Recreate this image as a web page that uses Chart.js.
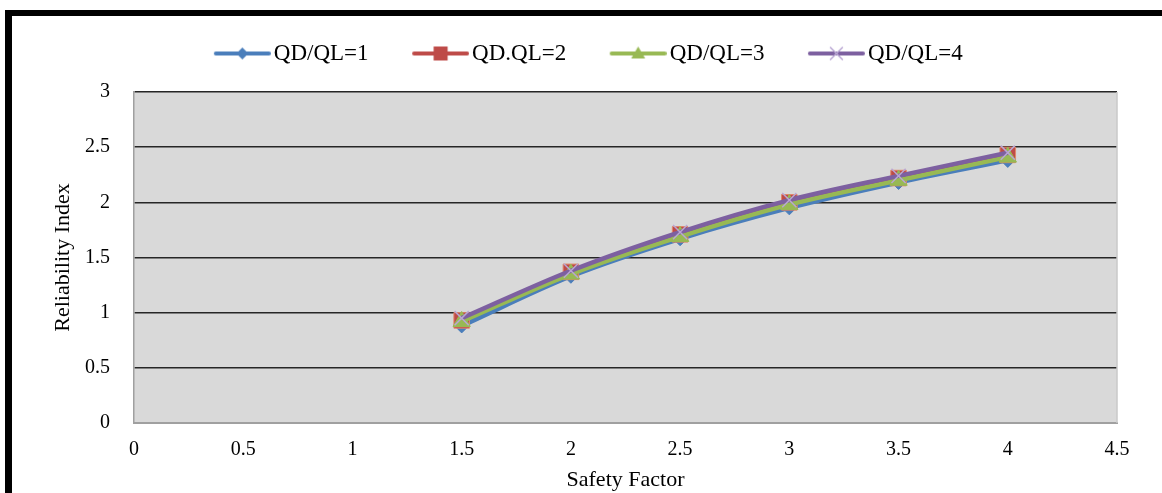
<!DOCTYPE html>
<html>
<head>
<meta charset="utf-8">
<script src="https://cdn.jsdelivr.net/npm/chart.js@4.4.0/dist/chart.umd.min.js"></script>
<style>
  body { margin: 0; background: #fff; }
  #wrap { position: relative; width: 1162px; height: 493px; }
  #frame { position: absolute; left: 5px; top: 10px; width: 1157px; height: 483px;
           border-left: 7px solid #000; border-top: 6px solid #000; pointer-events: none; box-sizing: border-box; }
</style>
</head>
<body>
<div id="wrap">
  <canvas id="chart"></canvas>
  <div id="frame"></div>
</div>
<script>
// data
const safetyFactor = [1.5, 2, 2.5, 3, 3.5, 4];
const qdql1 = [0.88, 1.33, 1.67, 1.95, 2.18, 2.38];
const qdql2 = [0.93, 1.37, 1.71, 2.00, 2.22, 2.43];
const qdql3 = [0.92, 1.35, 1.69, 1.98, 2.20, 2.41];
const qdql4 = [0.95, 1.38, 1.73, 2.02, 2.24, 2.45];
const seriesNames = ['QD/QL=1', 'QD.QL=2', 'QD/QL=3', 'QD/QL=4'];
const xMax = 4.5, yMax = 3, tickStep = 0.5;

const FONT = "'Liberation Serif', 'Times New Roman', serif";
const colors = ['#4a7ebb', '#be4b48', '#98b954', '#7d60a0'];
const markers = ['rectRot', 'rect', 'triangle', 'crossRot'];
const radii = [7, 11, 10, 10];

const toPoints = ys => ys.map((y, i) => ({ x: safetyFactor[i], y: y }));
const fmt = v => String(+(+v).toFixed(1));

// little line+marker icon for the legend
function legendIcon(color, style, w, lineW) {
  const c = document.createElement('canvas');
  c.width = w; c.height = 20;
  const g = c.getContext('2d');
  const x0 = w - lineW, cx = x0 + lineW / 2, cy = 10;
  g.strokeStyle = color; g.lineWidth = 4; g.lineCap = 'round';
  g.beginPath(); g.moveTo(x0 + 2, cy); g.lineTo(w - 2, cy); g.stroke();
  g.fillStyle = color;
  g.beginPath();
  if (style === 'rectRot') {
    g.moveTo(cx, cy - 6); g.lineTo(cx + 6, cy); g.lineTo(cx, cy + 6); g.lineTo(cx - 6, cy); g.closePath(); g.fill();
  } else if (style === 'rect') {
    g.rect(cx - 7, cy - 7, 14, 14); g.fill();
  } else if (style === 'triangle') {
    g.moveTo(cx, cy - 7); g.lineTo(cx + 7, cy + 5); g.lineTo(cx - 7, cy + 5); g.closePath(); g.fill();
  } else {
    g.strokeStyle = '#b9a6d3'; g.lineWidth = 1.5;
    g.moveTo(cx - 6, cy - 6); g.lineTo(cx + 6, cy + 6);
    g.moveTo(cx + 6, cy - 6); g.lineTo(cx - 6, cy + 6); g.stroke();
  }
  return c;
}

const legendFont = 23, legendPad = 42, legendBox = 50;
const iconW = Math.round(legendBox + legendFont - 6);
const icons = colors.map((c, i) => legendIcon(c, markers[i], iconW, 57));

const plotBg = {
  id: 'plotBg',
  beforeLayout(chart) {
    const lg = chart.legend;
    if (lg && !lg._patched) {
      const fit = lg.fit;
      lg.fit = function () { fit.call(this); this.height = 92; };
      lg._patched = true;
    }
  },
  afterLayout(chart) {
    // nudge the legend a little to the right, like the original
    chart.legend.left += 6;
    chart.legend.right += 6;
  },
  beforeDraw(chart) {
    const a = chart.chartArea, ctx = chart.ctx;
    ctx.save();
    ctx.fillStyle = '#d9d9d9';
    ctx.fillRect(a.left, a.top, a.right - a.left, a.bottom - a.top);
    ctx.restore();
  },
  beforeDatasetsDraw(chart) {
    const a = chart.chartArea, ctx = chart.ctx;
    ctx.save();
    ctx.strokeStyle = '#c8c8c8'; ctx.lineWidth = 1.5;
    ctx.beginPath(); ctx.moveTo(a.right, a.top); ctx.lineTo(a.right, a.bottom); ctx.stroke();
    ctx.restore();
  }
};

const series = [qdql1, qdql2, qdql3, qdql4];
const datasets = series.map((ys, i) => ({
  label: seriesNames[i],
  data: toPoints(ys),
  borderColor: colors[i],
  backgroundColor: colors[i],
  borderWidth: 4.5,
  cubicInterpolationMode: 'monotone',
  pointStyle: markers[i],
  pointRadius: radii[i],
  pointBorderWidth: i === 3 ? 1.5 : 1,
  pointBorderColor: i === 3 ? '#b9a6d3' : (i === 1 ? '#e0876a' : colors[i]),
  order: 4 - i
}));

new Chart(document.getElementById('chart'), {
  type: 'line',
  data: { datasets: datasets },
  plugins: [plotBg],
  options: {
    responsive: true,
    maintainAspectRatio: false,
    animation: false,
    layout: { padding: { left: 46, right: 45, top: 0, bottom: 0 } },
    plugins: {
      tooltip: { enabled: false },
      legend: {
        position: 'top',
        labels: {
          color: '#000',
          font: { family: FONT, size: legendFont },
          padding: legendPad,
          usePointStyle: true,
          pointStyleWidth: legendBox,
          sort: (a, b) => a.datasetIndex - b.datasetIndex,
          generateLabels(chart) {
            const items = Chart.defaults.plugins.legend.labels.generateLabels(chart);
            items.forEach(it => { it.pointStyle = icons[it.datasetIndex]; });
            return items;
          }
        }
      }
    },
    scales: {
      x: {
        type: 'linear',
        min: 0, max: xMax,
        afterFit(s) { s.height = 70; },
        ticks: { stepSize: tickStep, color: '#000', font: { family: FONT, size: 20 }, padding: 15, callback: fmt },
        grid: { display: false, drawTicks: false },
        border: { display: true, color: '#a0a0a0', width: 2 },
        title: { display: true, text: 'Safety Factor', color: '#000',
                 font: { family: FONT, size: 22 }, padding: { top: 0, bottom: 0 } }
      },
      y: {
        min: 0, max: yMax,
        afterFit(s) { s.width = 88; },
        ticks: { stepSize: tickStep, color: '#000', font: { family: FONT, size: 20 }, padding: 24, callback: fmt },
        grid: {
          drawTicks: false,
          color: ctx => ctx.tick && ctx.tick.value === 0 ? 'rgba(0,0,0,0)' : '#262626',
          lineWidth: 1.4
        },
        border: { display: true, color: '#a0a0a0', width: 1.5 },
        title: { display: true, text: 'Reliability Index', color: '#000',
                 font: { family: FONT, size: 22 }, padding: { top: 4, bottom: 4 } }
      }
    }
  }
});
</script>
</body>
</html>
